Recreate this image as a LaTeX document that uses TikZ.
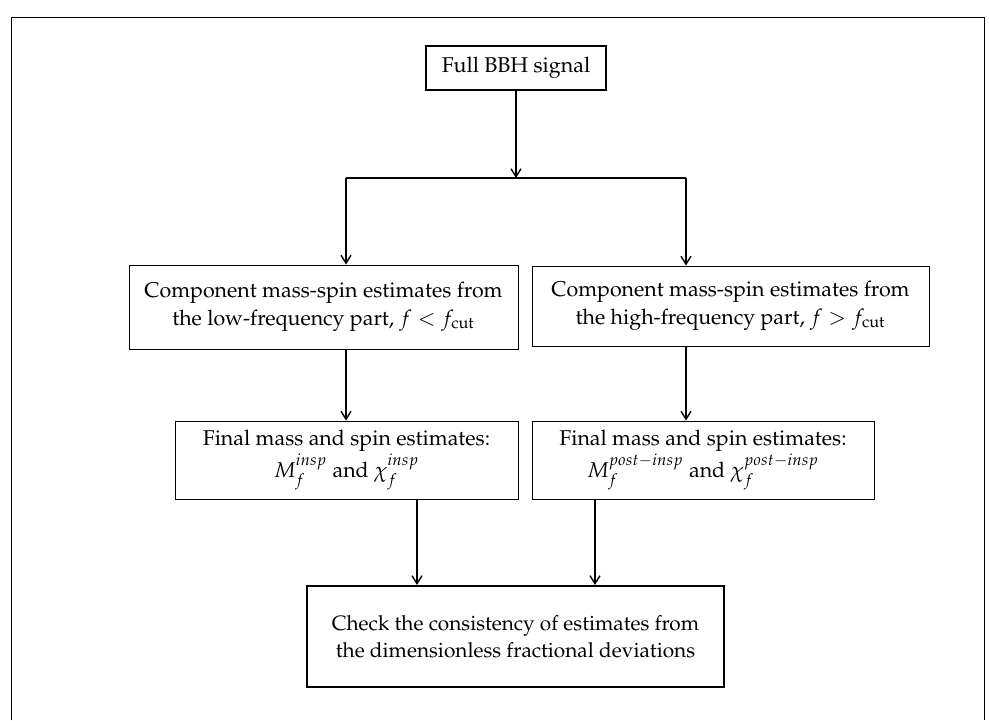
\documentclass[tikz,border=0pt]{standalone}
\usepackage[T1]{fontenc}
\usepackage{mathpazo}
\usetikzlibrary{arrows.meta}
\begin{document}
\begin{tikzpicture}[x=0.5pt,y=-0.5pt,
  box/.style={draw, line width=0.5pt, inner sep=0pt, align=center, font=\fontsize{10.7}{13.8}\selectfont},
  thick box/.style={box, line width=1pt},
  arr/.style={line width=0.7pt, -{Straight Barb[length=4pt,width=5pt,line width=0.7pt]}},
  ln/.style={line width=0.7pt}]
\useasboundingbox (0,0) rectangle (989,720);
\draw[line width=0.5pt] (11,720) -- (11,17) -- (984,17) -- (984,720);
\node[thick box, minimum width=90pt, minimum height=22pt] (top) at (516,68) {Full BBH signal};
\node[box, minimum width=194.5pt, minimum height=42pt] (L1) at (323.5,307)
  {Component mass-spin estimates from\\ the low-frequency part, $f < f_{\mathrm{cut}}$};
\node[box, minimum width=198.5pt, minimum height=40pt] (R1) at (730.5,306)
  {Component mass-spin estimates from\\ the high-frequency part, $f > f_{\mathrm{cut}}$};
\node[box, minimum width=171.5pt, minimum height=39pt] (L2) at (346.5,460)
  {Final mass and spin estimates:\\ $M_f^{insp}$ and $\chi_f^{insp}$};
\node[box, minimum width=171pt, minimum height=39pt] (R2) at (703,460)
  {Final mass and spin estimates:\\ $M_f^{post-insp}$ and $\chi_f^{post-insp}$};
\node[thick box, minimum width=208.5pt, minimum height=50.5pt, font=\fontsize{10.4}{13.8}\selectfont] (B) at (515.5,636.5)
  {Check the consistency of estimates from\\ the dimensionless fractional deviations};
\coordinate (sm) at (516,178);
\coordinate (sl) at (346,178);
\coordinate (sr) at (686,178);
\coordinate (bl) at (417,540);
\coordinate (br) at (595,540);
\draw[arr] (top) -- (sm);
\draw[ln] (sl) -- (sr);
\draw[arr] (sl) -- (sl |- L1.north);
\draw[arr] (sr) -- (sr |- R1.north);
\draw[arr] (L1.south -| sl) -- (L2.north -| sl);
\draw[arr] (R1.south -| sr) -- (R2.north -| sr);
\draw[arr] (L2.south -| bl) -- (B.north -| bl);
\draw[arr] (R2.south -| br) -- (B.north -| br);
\end{tikzpicture}
\end{document}
